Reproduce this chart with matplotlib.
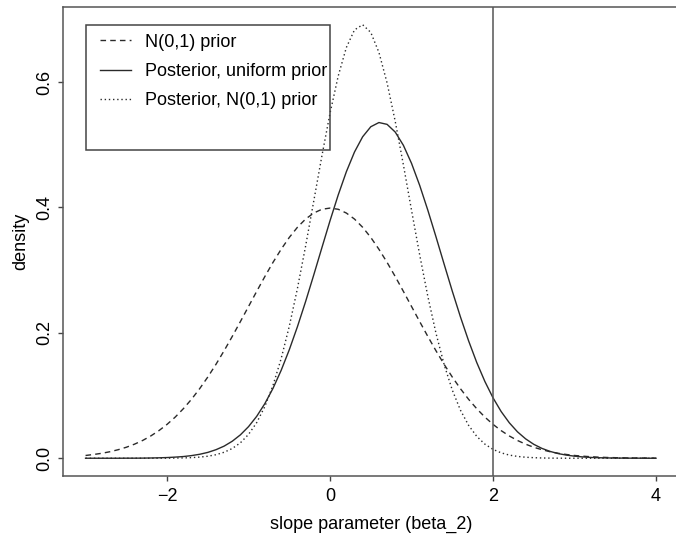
import matplotlib
matplotlib.use("Agg")
import matplotlib.pyplot as plt
from matplotlib.patches import Rectangle
import numpy as np

plt.rcParams['font.family'] = ['Liberation Sans', 'DejaVu Sans']
plt.rcParams['font.size'] = 13

# slope values (x) and densities
beta = np.round(np.arange(-30, 41) * 0.1, 1)

prior_n01 = [
    0.0044, 0.0060, 0.0079, 0.0104, 0.0136, 0.0175, 0.0224, 0.0283, 0.0355, 0.0440,
    0.0540, 0.0656, 0.0790, 0.0940, 0.1109, 0.1295, 0.1497, 0.1714, 0.1942, 0.2179,
    0.2420, 0.2661, 0.2897, 0.3123, 0.3332, 0.3521, 0.3683, 0.3814, 0.3910, 0.3970,
    0.3989,
    0.3970, 0.3910, 0.3814, 0.3683, 0.3521, 0.3332, 0.3123, 0.2897, 0.2661, 0.2420,
    0.2179, 0.1942, 0.1714, 0.1497, 0.1295, 0.1109, 0.0940, 0.0790, 0.0656, 0.0540,
    0.0440, 0.0355, 0.0283, 0.0224, 0.0175, 0.0136, 0.0104, 0.0079, 0.0060, 0.0044,
    0.0033, 0.0024, 0.0017, 0.0012, 0.0009, 0.0006, 0.0004, 0.0003, 0.0002, 0.0001,
]

post_uniform = [
    0.0000, 0.0000, 0.0000, 0.0000, 0.0000, 0.0001, 0.0001, 0.0002, 0.0004, 0.0007,
    0.0011, 0.0018, 0.0027, 0.0042, 0.0063, 0.0093, 0.0136, 0.0193, 0.0271, 0.0373,
    0.0504, 0.0668, 0.0871, 0.1114, 0.1401, 0.1730, 0.2098, 0.2498, 0.2922, 0.3357,
    0.3788,
    0.4197, 0.4568, 0.4883, 0.5126, 0.5286, 0.5353, 0.5324, 0.5201, 0.4990, 0.4702,
    0.4351, 0.3955, 0.3531, 0.3095, 0.2665, 0.2254, 0.1873, 0.1527, 0.1224, 0.0963,
    0.0744, 0.0565, 0.0421, 0.0309, 0.0222, 0.0157, 0.0109, 0.0074, 0.0050, 0.0033,
    0.0021, 0.0013, 0.0008, 0.0005, 0.0003, 0.0002, 0.0001, 0.0001, 0.0000, 0.0000,
]

post_n01 = [
    0.0000, 0.0000, 0.0000, 0.0000, 0.0000, 0.0000, 0.0000, 0.0000, 0.0000, 0.0001,
    0.0001, 0.0003, 0.0005, 0.0010, 0.0018, 0.0032, 0.0056, 0.0095, 0.0155, 0.0246,
    0.0380, 0.0568, 0.0824, 0.1161, 0.1587, 0.2104, 0.2708, 0.3382, 0.4099, 0.4821,
    0.5502,
    0.6093, 0.6549, 0.6830, 0.6913, 0.6790, 0.6471, 0.5985, 0.5371, 0.4679, 0.3953,
    0.3243, 0.2581, 0.1993, 0.1494, 0.1087, 0.0767, 0.0525, 0.0349, 0.0225, 0.0141,
    0.0086, 0.0050, 0.0029, 0.0016, 0.0009, 0.0004, 0.0002, 0.0001, 0.0000, 0.0000,
    0.0000, 0.0000, 0.0000, 0.0000, 0.0000, 0.0000, 0.0000, 0.0000, 0.0000, 0.0000,
]

labels = ["N(0,1) prior", "Posterior, uniform prior", "Posterior, N(0,1) prior"]
observed = 2.0
xticks = [-2, 0, 2, 4]
yticks = [0.0, 0.2, 0.4, 0.6]

fig = plt.figure(figsize=(6.76, 5.34), dpi=100)
ax = fig.add_axes([0.0928, 0.1094, 0.9114, 0.8768])

ink = '#2a2a2a'
l1, = ax.plot(beta, prior_n01, color=ink, lw=1.0, dashes=(4, 3))
l2, = ax.plot(beta, post_uniform, color=ink, lw=1.0)
l3, = ax.plot(beta, post_n01, color=ink, lw=1.0, dashes=(1, 2))
ax.axvline(observed, color='#555555', lw=1.1)

ax.margins(x=0.04, y=0.04)
ax.set_xticks(xticks)
ax.set_yticks(yticks)
ax.set_yticklabels(['%.1f' % v for v in yticks], rotation=90, va='center')
ax.tick_params(length=3.8, width=1.0, color='#444444', labelsize=13)
ax.tick_params(axis='x', pad=5)
ax.tick_params(axis='y', pad=3)
for s in ax.spines.values():
    s.set_color('#555555')
    s.set_linewidth(1.1)

ax.set_xlabel('slope parameter (beta_2)', fontsize=13, labelpad=8)
ax.set_ylabel('density', fontsize=13, labelpad=5)

# legend box drawn separately, R leaves extra room under the entries
ax.add_patch(Rectangle((0.0378, 0.6954), 0.3961, 0.2670, transform=ax.transAxes,
                       fill=False, edgecolor='#444444', lw=1.1, zorder=5))
ax.legend([l1, l2, l3], labels, loc='upper left', bbox_to_anchor=(0.0605, 0.944),
          frameon=False, borderpad=0, borderaxespad=0, handlelength=1.7,
          handletextpad=0.8, labelspacing=0.68, fontsize=13)

fig.savefig('out.png', dpi=100)
